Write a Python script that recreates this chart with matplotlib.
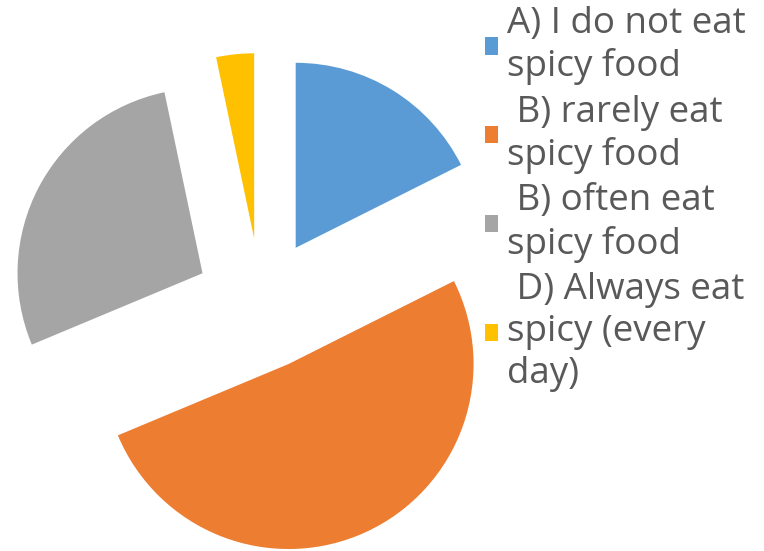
import matplotlib
matplotlib.use('Agg')
import matplotlib.pyplot as plt

# Survey answers (share of respondents, %)
categories = [
    "A) I do not eat\nspicy food",
    " B) rarely eat\nspicy food",
    " B) often eat\nspicy food",
    " D) Always eat\nspicy (every\nday)",
]
shares = [17.6, 51.1, 28.0, 3.3]
colors = ['#5B9BD5', '#ED7D31', '#A5A5A5', '#FFC000']

W, H = 764, 551
fig = plt.figure(figsize=(W / 100, H / 100), dpi=100)

# pie area occupies the left part; 1 data unit = R pixels
R = 185.0
cx, cy = 261.0, 304.0
ax_w = 490
ax = fig.add_axes([0, 0, ax_w / W, 1])
wedges, _ = ax.pie(shares, colors=colors, startangle=90, counterclock=False,
                   explode=[0.357] * len(shares), radius=1.0,
                   wedgeprops=dict(linewidth=0))
ax.set_xlim(-cx / R, (ax_w - cx) / R)
ax.set_ylim((cy - H) / R, cy / R)
ax.set_aspect('equal')
ax.axis('off')

leg = fig.legend(wedges, categories, loc='upper left',
                 bbox_to_anchor=(485 / W, 1 - 6 / H), bbox_transform=fig.transFigure,
                 frameon=False, labelcolor='#595959',
                 prop={'family': 'Open Sans', 'size': 26.5},
                 handlelength=0.35, handleheight=0.35, handletextpad=0.25,
                 labelspacing=0.25, borderpad=0, borderaxespad=0)
for t in leg.get_texts():
    t.set_linespacing(1.23)

fig.savefig('out.png', dpi=100)
